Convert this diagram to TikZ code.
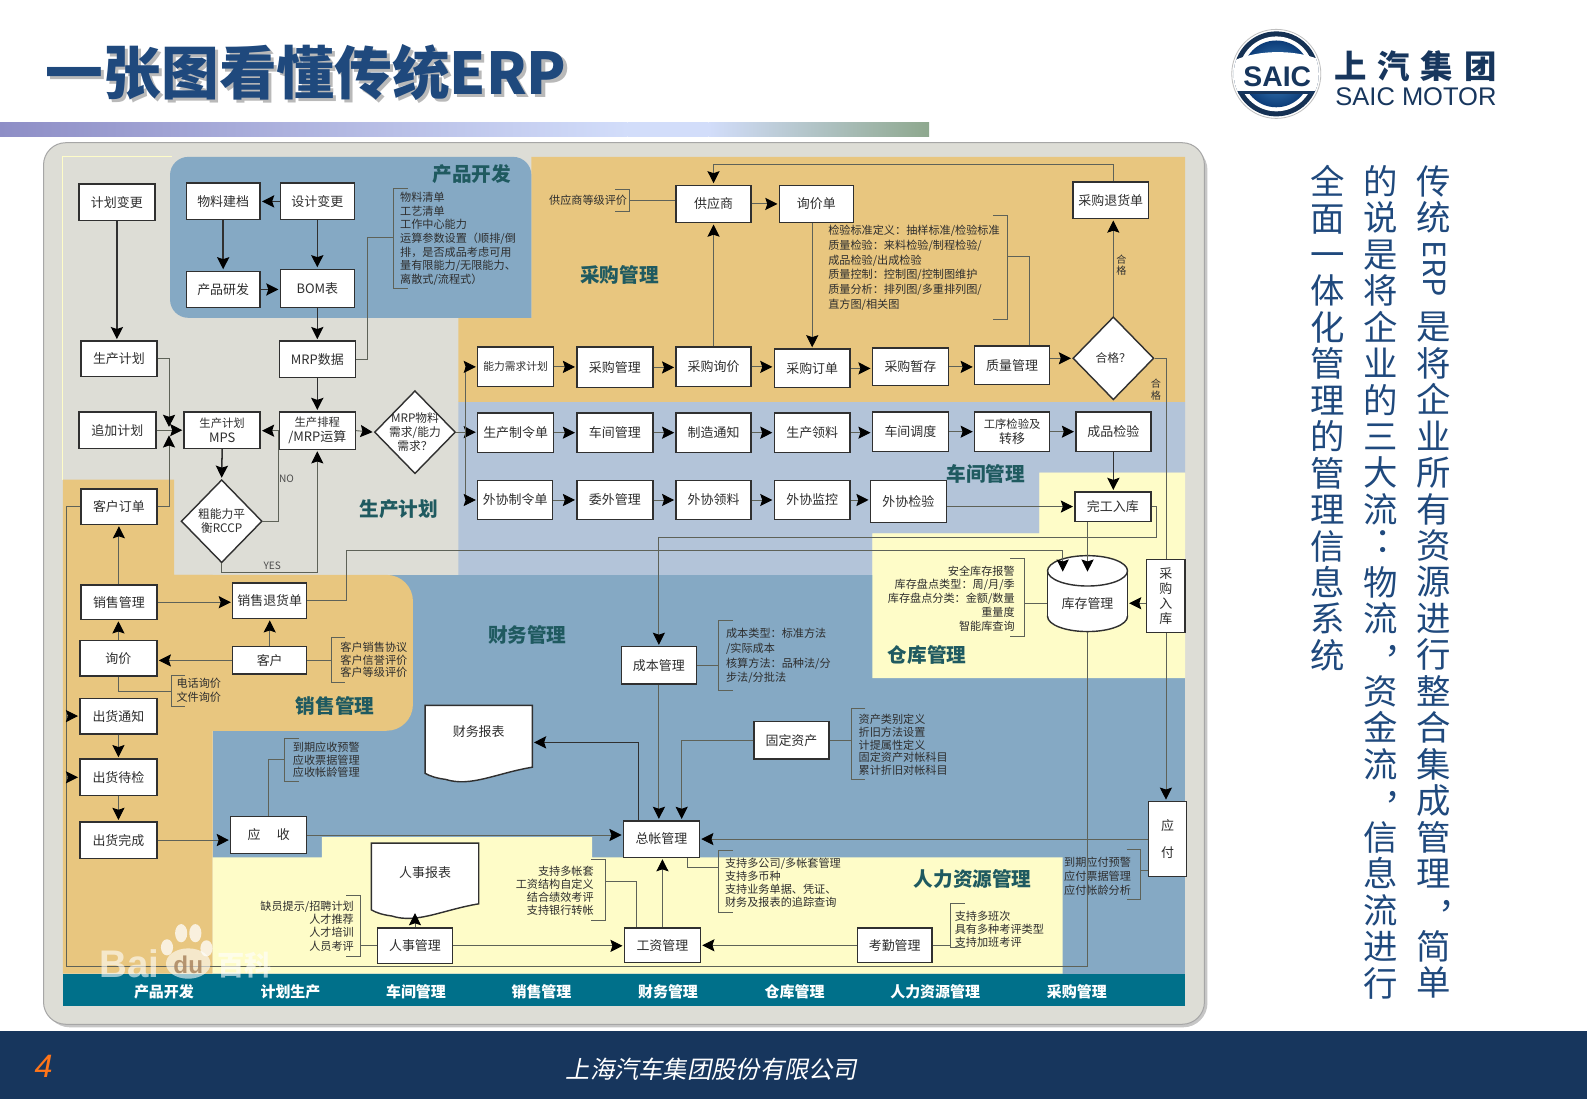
\documentclass[tikz,border=0pt]{standalone}
\usepackage{fontspec}
\usepackage{graphicx}
\usetikzlibrary{arrows.meta,shapes.geometric,calc}
\setmainfont{Noto Sans CJK SC}
\newfontfamily\cjkit[FakeSlant=0.2]{Noto Sans CJK SC}
\newfontfamily\lat{Liberation Sans}
\definecolor{cpanel}{HTML}{DDDDD6}
\definecolor{cblue}{HTML}{85A9C4}
\definecolor{corange}{HTML}{E8C67F}
\definecolor{clight}{HTML}{B3C4D9}
\definecolor{cyellow}{HTML}{FEFCC8}
\definecolor{cteal}{HTML}{00708A}
\definecolor{chead}{HTML}{1F5A60}
\definecolor{ctitle}{HTML}{1F497D}
\definecolor{cnavy}{HTML}{17365D}
\definecolor{cline}{HTML}{5E6258}
\definecolor{cdark}{HTML}{303030}
\definecolor{ctext}{HTML}{2E2E2E}
\tikzset{
  ebox/.style={draw=cdark,line width=0.7pt,fill=white,inner sep=0pt,text=ctext,align=center,font=\fontsize{6.4}{7.4}\selectfont},
  ghostbox/.style={inner sep=0pt,text=ctext,align=center,font=\fontsize{6.4}{7.4}\selectfont},
  edia/.style={diamond,draw=cdark,line width=0.7pt,fill=white,inner sep=0pt},
  ln/.style={draw=cline,line width=0.45pt},
  arr/.style={ln,-{Stealth[length=6pt,width=6pt,inset=1pt,color=black]},shorten >=0.6pt},
  dk/.style={draw=cdark,line width=0.75pt},
  dka/.style={dk,-{Stealth[length=6pt,width=6pt,inset=1pt,color=black]},shorten >=0.6pt},
  heading/.style={text=chead,font=\bfseries\fontsize{9.7}{11}\selectfont,inner sep=0pt},
  foot/.style={text=white,font=\bfseries\fontsize{7.4}{9}\selectfont,inner sep=0pt},
  small/.style={text=cdark,font=\fontsize{5}{5.8}\selectfont,inner sep=0pt,align=center},
  vtext/.style={text=ctitle,anchor=north,align=center,inner sep=0pt,font=\fontsize{17}{18}\selectfont,text width=20pt},
  wm/.style={text=white,opacity=0.6,inner sep=0pt},
}
\newcommand{\bx}[6]{\node[ebox,minimum width={(#4-#2)*0.5pt},minimum height={(#5-#3)*0.5pt}] (#1) at ({(#2+#4)/2},{(#3+#5)/2}) {#6};}
\newcommand{\dia}[4]{\node[edia,minimum width=40pt,minimum height=41pt,label={[ebox-label]center:#4}] (#1) at (#2,#3) {};}
\tikzset{ebox-label/.style={text=ctext,align=center,inner sep=0pt,font=\fontsize{5.8}{7}\selectfont}}
\newcommand{\nt}[6]{\node[text=ctext,inner sep=0pt,anchor=#4,align=#6,font={\fontsize{5.5}{#5}\selectfont}] at (#2,#3) {#1};}
\newcommand{\brL}[4]{\coordinate (#1) at (#2,{(#3+#4)/2}); \draw[ln] ({#2+14},#3) -- (#2,#3) -- (#2,#4) -- ({#2+14},#4);}
\newcommand{\brR}[4]{\coordinate (#1) at (#2,{(#3+#4)/2}); \draw[ln] ({#2-14},#3) -- (#2,#3) -- (#2,#4) -- ({#2-14},#4);}
\newcommand{\harr}[2]{\draw[arr] (#1.east) -- (#1.east -| #2.west);}
\newcommand{\vcm}{\makebox[0pt][l]{\hspace{2pt}\raisebox{7pt}{，}}}
\newcommand{\vcl}{\makebox[0pt][l]{\hspace{-3pt}\raisebox{3pt}{：}}}
\begin{document}
\begin{tikzpicture}[x=0.5pt,y=-0.5pt]
\useasboundingbox (0,0) rectangle (1568,1086);
\fill[white] (0,0) rectangle (1568,1086);
% header
\node[text=gray!55,anchor=west,inner sep=0pt,font=\bfseries\fontsize{28.5}{30}\selectfont] at (48,75) {一张图看懂传统ERP};
\node (title) [text=ctitle,anchor=west,inner sep=0pt,font=\bfseries\fontsize{28.5}{30}\selectfont] at (45,72) {一张图看懂传统ERP};
\shade[left color={rgb,255:red,142;green,142;blue,198},right color={rgb,255:red,210;green,221;blue,250}] (0,121) rectangle (620,135);
\fill[color={rgb,255:red,210;green,221;blue,250}] (620,121) rectangle (700,135);
\shade[left color={rgb,255:red,210;green,221;blue,250},right color={rgb,255:red,142;green,168;blue,142}] (700,121) rectangle (918,135);
% logo
\fill[white,draw=gray!50] (1261,73) circle (44);
\fill[cnavy!90!black] (1261,73) circle (42);
\fill[white] (1261,73) circle (37);
\shade[inner color={rgb,255:red,70;green,140;blue,200},outer color={rgb,255:red,12;green,60;blue,120}] (1261,73) circle (33);
\begin{scope}
\clip (1261,73) circle (42);
\fill[white] (1215,62) .. controls (1240,48) and (1285,48) .. (1310,62) -- (1310,92) -- (1215,92) -- cycle;
\fill[cnavy] (1215,90) rectangle (1310,93);
\end{scope}
\node (saic) [text=cnavy,inner sep=0pt,font=\lat\bfseries\fontsize{14}{15}\selectfont] at (1262,76) {SAIC};
\node (shangqi) [text=cnavy,anchor=west,inner sep=0pt,font=\bfseries\fontsize{16}{18}\selectfont] at (1318,65) {上\hspace{5.4pt}汽\hspace{5.4pt}集\hspace{5.4pt}团};
\node (motor) [text=cnavy,anchor=west,inner sep=0pt,font=\lat\fontsize{12.6}{14}\selectfont] at (1319,96) {SAIC MOTOR};
% right vertical text
\node (vc1) [vtext] at (1417,163) {传\\统\\\smash{\raisebox{13pt}{\rotatebox{-90}{\fontsize{15}{18}\selectfont ERP}}}\\[18pt]是\\将\\企\\业\\所\\有\\资\\源\\进\\行\\整\\合\\集\\成\\管\\理\\\vcm\\简\\单};
\node (vc2) [vtext] at (1364,163) {的\\说\\是\\将\\企\\业\\的\\三\\大\\流\\\vcl\\物\\流\\\vcm\\资\\金\\流\\\vcm\\信\\息\\流\\进\\行};
\node (vc3) [vtext] at (1312,163) {全\\面\\一\\体\\化\\管\\理\\的\\管\\理\\信\\息\\系\\统};
% footer
\fill[cnavy] (0,1019) rectangle (1568,1086);
\node (pgno) [text=orange!80!red!90!white,inner sep=0pt,font=\lat\itshape\fontsize{16}{18}\selectfont] at (43,1054) {4};
\node (co) [text=white,inner sep=0pt,font=\cjkit\fontsize{12}{14}\selectfont] at (703,1056) {上海汽车集团股份有限公司};
% panel
\fill[gray!45,rounded corners=12pt] (45,144) rectangle (1193,1015);
\fill[cpanel,draw=gray!70,line width=0.5pt,rounded corners=11pt] (43,141) rectangle (1190,1012);
\draw[cyellow,line width=0.5pt] (62,474) -- (62,155) -- (170,155);
% regions
\fill[cblue] (210,568) rectangle (1171,962);
\fill[clight] (453,397) -- (1171,397) -- (1171,467) -- (1027,467) -- (1027,527) -- (862,527) -- (862,568) -- (453,568) -- cycle;
\fill[cyellow] (1027,467) -- (1171,467) -- (1171,670) -- (862,670) -- (862,527) -- (1027,527) -- cycle;
\fill[corange] (525,155) -- (1171,155) -- (1171,397) -- (453,397) -- (453,314) -- (525,314) -- cycle;
\fill[cblue,rounded corners=9pt] (525,314) -- (168,314) -- (168,155) -- (525,155) [sharp corners] -- cycle;
\fill[corange] (62,474) -- (172,474) -- (172,568) -- (210,568) -- (210,962) -- (62,962) -- cycle;
\fill[corange,rounded corners=13pt] (150,568) -- (408,568) -- (408,722) -- (150,722) [sharp corners] -- cycle;
\fill[cyellow] (210,847) -- (318,847) -- (318,827) -- (585,827) -- (585,847) -- (1050,847) -- (1050,962) -- (210,962) -- cycle;
\fill[cteal] (62,962) rectangle (1171,994);
% region headings
\node[heading] (h1) at (466,172) {产品开发};
\node[heading] (h2) at (612,272) {采购管理};
\node[heading] (h3) at (974,468) {车间管理};
\node[heading] (h4) at (394,503) {生产计划};
\node[heading] (h5) at (521,627) {财务管理};
\node[heading] (h6) at (916,647) {仓库管理};
\node[heading] (h7) at (331,698) {销售管理};
\node[heading] (h8) at (961,868) {人力资源管理};
% footer band labels
\node[foot] (f1) at (162,980) {产品开发};
\node[foot] (f2) at (287,980) {计划生产};
\node[foot] (f3) at (411,980) {车间管理};
\node[foot] (f4) at (535,980) {销售管理};
\node[foot] (f5) at (660,980) {财务管理};
\node[foot] (f6) at (785,980) {仓库管理};
\node[foot] (f7) at (924,980) {人力资源管理};
\node[foot] (f8) at (1064,980) {采购管理};
% boxes
\bx{jhbg}{78}{182}{153}{218}{计划变更}
\bx{wljd}{184}{181}{257}{217}{物料建档}
\bx{sjbg}{277}{181}{350}{217}{设计变更}
\bx{cpyf}{184}{268}{257}{304}{产品研发}
\bx{bom}{277}{266}{350}{304}{BOM表}
\bx{scjh}{80}{337}{155}{372}{生产计划}
\bx{mrp}{276}{337}{351}{373}{MRP数据}
\bx{zjjh}{78}{407}{154}{443}{追加计划}
\bx{mps}{182}{407}{257}{443}{\fontsize{5.6}{6.8}\selectfont 生产计划\\MPS}
\bx{pc}{276}{407}{351}{444}{\fontsize{5.6}{6.8}\selectfont 生产排程\\/MRP运算}
\dia{mrpd}{410}{427}{MRP物料\\需求/能力\\需求？}
\dia{rc}{219}{515}{粗能力平\\衡RCCP}
\dia{hege}{1100}{354}{合格？}
\bx{khdd}{80}{483}{155}{518}{客户订单}
\bx{xsgl}{80}{578}{155}{612}{销售管理}
\bx{xsth}{230}{576}{303}{611}{销售退货单}
\bx{xj}{79}{633}{155}{668}{询价}
\bx{kehu}{230}{639}{303}{666}{客户}
\bx{chtz}{79}{690}{155}{725}{出货通知}
\bx{chdj}{79}{750}{155}{786}{出货待检}
\bx{chwc}{79}{812}{155}{848}{出货完成}
\bx{ys}{228}{807}{303}{843}{应\hspace{8pt}收}
\bx{rsgl}{373}{917}{447}{952}{人事管理}
\bx{gz}{617}{917}{692}{951}{工资管理}
\bx{kq}{847}{917}{921}{951}{考勤管理}
\bx{zz}{616}{811}{691}{847}{总帐管理}
\bx{cb}{614}{639}{688}{676}{成本管理}
\bx{gd}{745}{713}{819}{750}{固定资产}
\bx{cgrk}{1133}{553}{1171}{625}{采\\购\\入\\库}
\bx{yf}{1135}{792}{1172}{866}{应\\[6pt]付}
\bx{wg}{1062}{486}{1137}{515}{完工入库}
\bx{wxjy}{860}{475}{935}{516}{外协检验}
\bx{wxjk}{765}{475}{840}{513}{外协监控}
\bx{wxll}{668}{475}{742}{513}{外协领料}
\bx{wwgl}{570}{475}{645}{513}{委外管理}
\bx{wxzl}{472}{475}{546}{513}{外协制令单}
\bx{sczl}{472}{408}{547}{447}{生产制令单}
\bx{cjgl}{570}{408}{645}{447}{车间管理}
\bx{zztz}{668}{408}{742}{447}{制造通知}
\bx{scll}{765}{408}{840}{447}{生产领料}
\bx{cjdd}{862}{407}{937}{446}{车间调度}
\bx{gxjy}{963}{407}{1037}{446}{\fontsize{5.6}{6.8}\selectfont 工序检验及\\转移}
\bx{cpjy}{1063}{407}{1137}{446}{成品检验}
\bx{nlxq}{472}{343}{547}{382}{\fontsize{5.3}{6.8}\selectfont 能力需求计划}
\bx{cggl}{570}{343}{645}{383}{采购管理}
\bx{cgxj}{668}{343}{742}{382}{采购询价}
\bx{cgdd}{765}{345}{840}{383}{采购订单}
\bx{cgzc}{862}{344}{937}{381}{采购暂存}
\bx{zlgl}{963}{342}{1037}{380}{质量管理}
\bx{cgth}{1060}{180}{1135}{216}{采购退货单}
\bx{gys}{668}{183}{742}{220}{供应商}
\bx{xjd}{770}{183}{843}{220}{询价单}
% document shapes
\draw[cdark,line width=0.7pt,fill=white] (420,697) -- (526,697) -- (526,758) .. controls (490,764) and (465,778) .. (440,770) .. controls (432,769) and (425,767) .. (420,764) -- cycle;
\node[ghostbox,minimum width=53pt,minimum height=36.5pt] (fb) at (473,733.5) {\raisebox{11pt}{财务报表}};
\draw[cdark,line width=0.7pt,fill=white] (367,833) -- (473,833) -- (473,893) .. controls (437,899) and (412,913) .. (387,905) .. controls (379,904) and (372,902) .. (367,899) -- cycle;
\node[ghostbox,minimum width=53pt,minimum height=36pt] (rsbb) at (420,869) {\raisebox{7pt}{人事报表}};
% cylinder
\fill[white] (1035,564) rectangle (1114,609);
\draw[cdark,line width=0.7pt,fill=white] (1074.5,609) ellipse (39.5 and 15);
\fill[white] (1035,564) rectangle (1114,609);
\draw[cdark,line width=0.7pt] (1035,564) -- (1035,609) (1114,564) -- (1114,609);
\draw[cdark,line width=0.7pt,fill=white] (1074.5,564) ellipse (39.5 and 15);
\node[ghostbox,minimum width=39.5pt,minimum height=28pt] (kc) at (1074.5,596) {\raisebox{-2pt}{库存管理}};
% brackets
\brL{bwl}{389}{186}{285}
\brR{bgys}{622}{187}{209}
\brR{bzl}{995}{213}{316}
\brR{bck}{1012}{552}{629}
\brL{bcb}{710}{613}{682}
\brL{bgd}{841}{700}{770}
\brL{bzz}{710}{840}{902}
\brL{bkq}{939}{893}{936}
\brR{byf}{1127}{839}{889}
\brR{bgz}{598}{849}{909}
\brR{brs}{356}{885}{945}
\brL{bys}{281}{730}{772}
\brL{bkh}{327}{630}{674}
\brL{bdh}{169}{667}{698}
% notes
\nt{物料清单\\工艺清单\\工作中心能力\\运算参数设置（顺排/倒\\排，是否成品考虑可用\\量有限能力/无限能力、\\离散式/流程式）}{395}{236}{west}{6.7}{left}
\nt{供应商等级评价}{620}{198}{east}{6.7}{right}
\nt{检验标准定义：抽样标准/检验标准\\质量检验：来料检验/制程检验/\\成品检验/出成检验\\质量控制：控制图/控制图维护\\质量分析：排列图/多重排列图/\\直方图/相关图}{818}{264.5}{west}{7.3}{left}
\nt{安全库存报警\\库存盘点类型：周/月/季\\库存盘点分类：金额/数量\\重量度\\智能库查询}{1003}{591.5}{east}{6.9}{right}
\nt{成本类型：标准方法\\/实际成本\\核算方法：品种法/分\\步法/分批法}{717}{648}{west}{7.35}{left}
\nt{资产类别定义\\折旧方法设置\\计提属性定义\\固定资产对帐科目\\累计折旧对帐科目}{848}{736}{west}{6.25}{left}
\nt{到期应收预警\\应收票据管理\\应收帐龄管理}{289}{751}{west}{6.25}{left}
\nt{客户销售协议\\客户信誉评价\\客户等级评价}{336}{652}{west}{6.25}{left}
\nt{电话询价\\文件询价}{174}{682}{west}{6.5}{left}
\nt{支持多公司/多帐套管理\\支持多币种\\支持业务单据、凭证、\\财务及报表的追踪查询}{716}{872}{west}{6.35}{left}
\nt{支持多班次\\具有多种考评类型\\支持加班考评}{943}{918}{west}{6.25}{left}
\nt{到期应付预警\\应付票据管理\\应付帐龄分析}{1051}{866}{west}{7}{left}
\nt{支持多帐套\\工资结构自定义\\结合绩效考评\\支持银行转帐}{587}{880}{east}{6.4}{right}
\nt{缺员提示/招聘计划\\人才推荐\\人才培训\\人员考评}{350}{915}{east}{6.5}{right}
% small labels
\node[small] (hg1) at (1108,262) {合\\格};
\node[small] (hg2) at (1142,385) {合\\格};
\node[small,text=gray!60!black] (no) at (283,473) {NO};
\node[small,text=gray!60!black] (yes) at (269,559) {YES};
% dark connectors
\draw[dka] (sjbg.west) -- (sjbg.west -| wljd.east);
\draw[dka] (wljd.south) -- (wljd.south |- cpyf.north);
\draw[dka] (sjbg.south) -- (sjbg.south |- bom.north);
\draw[dka] (cpyf.east) -- (cpyf.east -| bom.west);
\draw[dka] (bom.south) -- (bom.south |- mrp.north);
\draw[dka] (mrp.south) -- (mrp.south |- pc.north);
\draw[dka] (jhbg.south) -- (jhbg.south |- scjh.north);
\draw[dka] (mps.south) -- (rc.north);
\draw[dka] (cpjy.south) -- (cpjy.south |- wg.north);
\draw[dka] ([xshift=-11.25pt]zz.north) |- (fb.east);
% production planning
\coordinate (jt) at (167,423);
\coordinate (jb) at (167,429);
\draw[arr] (scjh.east) -| (jt);
\draw[arr] (khdd.east) -| (jb);
\harr{zjjh}{mps}
\draw[arr] (pc.west) -- (pc.west -| mps.east);
\coordinate (nn) at (275,425);
\draw[ln] (rc.east) -| (nn);
\coordinate (yy) at (313.5,566);
\draw[arr] (rc.south) |- (yy) -- (yy |- pc.south);
\draw[arr] (pc.east) -- (mrpd.west);
\coordinate (mv) at (363,235);
\coordinate (bw2) at (389,235);
\draw[ln] (mrp.east) -| (mv) -- (bw2);
% trunk
\coordinate (tr) at (460,427);
\draw[arr] (mrpd.east) -- (mrpd.east -| sczl.west);
\draw[ln] (tr |- nlxq.west) -- (tr |- wxzl.west);
\draw[arr] (tr |- nlxq.west) -- (nlxq.west);
\draw[arr] (tr |- wxzl.west) -- (wxzl.west);
% rows
\harr{nlxq}{cggl}\harr{cggl}{cgxj}\harr{cgxj}{cgdd}\harr{cgdd}{cgzc}\harr{cgzc}{zlgl}
\draw[arr] (zlgl.east |- hege.west) -- (hege.west);
\harr{sczl}{cjgl}\harr{cjgl}{zztz}\harr{zztz}{scll}\harr{scll}{cjdd}\harr{cjdd}{gxjy}\harr{gxjy}{cpjy}
\harr{wxzl}{wwgl}\harr{wwgl}{wxll}\harr{wxll}{wxjk}\harr{wxjk}{wxjy}
\draw[arr] (wxjy.east |- wg.west) -- (wg.west);
% purchasing
\draw[arr] (cgxj.north) -- (cgxj.north |- gys.south);
\harr{gys}{xjd}
\draw[arr] (cgdd.north |- xjd.south) -- (cgdd.north);
\draw[ln] (bgys) -- (bgys -| gys.west);
\coordinate (bzl2) at (995,253);
\draw[ln] ([xshift=8.5pt]zlgl.north) |- (bzl2);
\draw[arr] (hege.north) -- (hege.north |- cgth.south);
\coordinate (tt) at (1100,162);
\draw[arr] (hege.north |- cgth.north) -- (tt) -| (gys.north);
\draw[ln] (hege.east) -| (cgrk.north);
\draw[arr] (cgrk.south) -- (cgrk.south |- yf.north);
% warehouse
\coordinate (ka) at (1050,566);
\coordinate (kb) at (1074.5,566);
\draw[arr] (wg.south -| kb) -- (kb);
\coordinate (ca) at (1143,531);
\draw[ln] (wg.east) -| (ca);
\draw[arr] (ca) -| (cb.north);
\coordinate (sa) at (342,544);
\draw[arr] (xsth.east) -| (sa) -| (ka);
\draw[arr] (cgrk.west |- kc.east) -- (kc.east);
\draw[ln] (kc.west) -- (kc.west -| bck);
% long return line
\coordinate (ll) at (66,955);
\draw[ln] (khdd.west) -| (ll) -- (ll -| kc.south) -- (kc.south);
\draw[arr] (ll |- chtz.west) -- (chtz.west);
\draw[arr] (ll |- chdj.west) -- (chdj.west);
% sales
\draw[arr] (xsgl.north) -- (xsgl.north |- khdd.south);
\draw[arr] (xj.north) -- (xj.north |- xsgl.south);
\harr{xsgl}{xsth}
\draw[arr] (kehu.north) -- (kehu.north |- xsth.south);
\draw[arr] (kehu.west) -- (kehu.west -| xj.east);
\draw[ln] (kehu.east) -- (kehu.east -| bkh);
\coordinate (dh2) at (169,683);
\draw[ln] (xj.south) |- (dh2);
\draw[arr] (chtz.south) -- (chtz.south |- chdj.north);
\draw[arr] (chdj.south) -- (chdj.south |- chwc.north);
\draw[arr] (chwc.east) -- (chwc.east -| ys.west);
% finance
\coordinate (ys2) at (281,750);
\draw[ln] (ys.north) |- (ys2);
\draw[arr] (ys.east) -- (ys.east -| zz.west);
\draw[arr] (cb.south) -- (cb.south |- zz.north);
\draw[arr] (gd.west) -| ([xshift=10pt]zz.north);
\draw[ln] (gd.east) -- (gd.east -| bgd);
\draw[ln] (cb.east) -- (cb.east -| bcb);
\draw[arr] (yf.west |- zz.east) -- (zz.east);
\draw[ln] ([yshift=-15.5pt]yf.west) -- ([yshift=-15.5pt]yf.west -| byf);
\coordinate (bzz2) at (710,857);
\draw[ln] ([xshift=13pt]zz.south) |- (bzz2);
% hr
\draw[arr] (gz.north) -- (gz.north |- zz.south);
\coordinate (bgz2) at (598,871);
\draw[ln] ([xshift=-12.75pt]gz.north) |- (bgz2);
\coordinate (rsb) at (rsgl.north |- 0,901);
\draw[arr] (rsgl.north) -- (rsb);
\harr{rsgl}{gz}
\draw[arr] (kq.west) -- (kq.west -| gz.east);
\draw[ln] (kq.east) -- (kq.east -| bkq);
\draw[ln] (rsgl.west) -- (rsgl.west -| brs);
% watermark
\node[wm,anchor=west,font=\lat\bfseries\fontsize{19}{20}\selectfont] (bai) at (98,952) {Bai};
\fill[white,opacity=0.6] (186,952) ellipse (22 and 15);
\fill[white,opacity=0.75] (165,936) ellipse (6 and 8) (179,922) ellipse (6 and 9) (193,922) ellipse (6 and 9) (204,937) ellipse (6 and 8);
\node[inner sep=0pt,text=gray!70!orange,opacity=0.8,font=\lat\bfseries\fontsize{12}{13}\selectfont] (du) at (186,953) {du};
\node[wm,anchor=west,font=\bfseries\fontsize{13.5}{15}\selectfont] (bk) at (214,954) {百科};
\end{tikzpicture}
\end{document}
